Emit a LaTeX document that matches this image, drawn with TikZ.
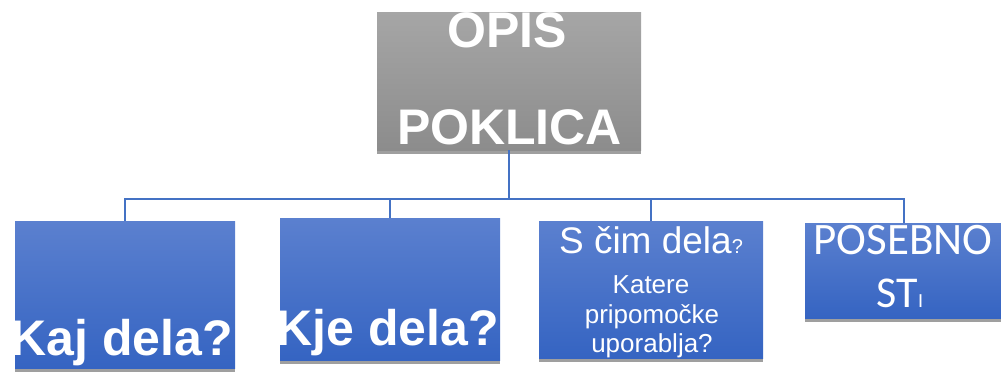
\documentclass[tikz,border=0pt]{standalone}
\usepackage{fontspec}
\setmainfont{Liberation Sans}
\newfontfamily\carlito{Carlito}
\usetikzlibrary{shadows}
\definecolor{graytop}{HTML}{A6A6A6}
\definecolor{graybot}{HTML}{8C8C8C}
\definecolor{bluetop}{HTML}{5B80CF}
\definecolor{bluebot}{HTML}{3564C2}
\definecolor{linecol}{HTML}{4472C4}
\tikzset{
  boxshadow/.style={drop shadow={fill=black!75, opacity=0.5, shadow xshift=0pt, shadow yshift=-4pt}},
  graybox/.style={rectangle, draw=none, top color=graytop, bottom color=graybot, boxshadow, inner sep=0pt},
  bluebox/.style={rectangle, draw=none, top color=bluetop, bottom color=bluebot, boxshadow, inner sep=0pt},
  txt/.style={text=white, inner sep=0pt, anchor=base},
  conn/.style={draw=linecol, line width=2pt},
}
\begin{document}
\begin{tikzpicture}[x=1pt, y=-1pt]
\useasboundingbox (0,0) rectangle (1001,372);
% boxes
\node[graybox, minimum width=264pt, minimum height=138pt] (top) at (509,81) {};
\node[bluebox, minimum width=220pt, minimum height=147pt] (b1) at (125,294.5) {};
\node[bluebox, minimum width=220pt, minimum height=142pt] (b2) at (390,289) {};
\node[bluebox, minimum width=224pt, minimum height=137pt] (b3) at (651,289.5) {};
\node[bluebox, minimum width=198pt, minimum height=95pt] (b4) at (904,270.5) {};
% connectors
\coordinate (j) at (509,199);
\draw[conn] (top.south) -- (j);
\draw[conn] (j) -| (b1.north);
\draw[conn] (j) -| (b2.north);
\draw[conn] (j) -| (b3.north);
\draw[conn] (j) -| (b4.north);
% texts
\node[txt] (t0a) at (507,47) {\fontsize{50}{60}\selectfont\bfseries OPIS};
\node[txt] (t0b) at (509.5,144) {\fontsize{50}{60}\selectfont\bfseries POKLICA};
\node[txt] (t1) at (121.5,355) {\fontsize{50}{60}\selectfont\bfseries Kaj dela?};
\node[txt] (t2) at (387.5,345) {\fontsize{50}{60}\selectfont\bfseries Kje dela?};
\node[txt] (t3a) at (651,253) {\fontsize{37}{44}\selectfont S čim dela\fontsize{20}{24}\selectfont ?};
\node[txt] (t3b) at (651,293) {\fontsize{26}{30}\selectfont Katere};
\node[txt] (t3c) at (652,323) {\fontsize{26}{30}\selectfont pripomočke};
\node[txt] (t3d) at (652,352) {\fontsize{26}{30}\selectfont uporablja?};
\node[txt] (t4a) at (903,254) {\carlito\fontsize{45}{54}\selectfont POSEBNO};
\node[txt] (t4b) at (900,307) {\carlito\fontsize{44}{52}\selectfont ST\fontsize{20}{24}\selectfont I};
\end{tikzpicture}
\end{document}
